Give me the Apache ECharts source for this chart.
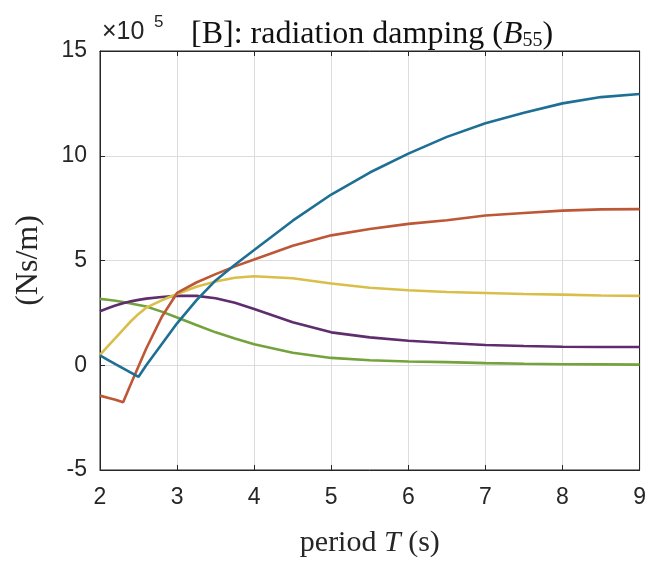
<!DOCTYPE html>
<html><head><meta charset="utf-8">
<script src="https://cdn.jsdelivr.net/npm/echarts/dist/echarts.min.js"></script>
<style>html,body{margin:0;padding:0;background:#fff;overflow:hidden}#c{width:649px;height:563px}</style>
</head><body><div id="c"></div>
<script>
// period T (s)
const periodT = [2, 2.1, 2.2, 2.3, 2.4, 2.5, 2.6, 2.8, 3, 3.25, 3.5, 3.75, 4, 4.5, 5, 5.5, 6, 6.5, 7, 7.5, 8, 8.5, 9];
// B55 values in units of 1e5 Ns/m
const seriesBlue   = [0.47, 0.26, 0.05, -0.15, -0.35, -0.55, 0.0, 1.0, 2.0, 3.1, 4.05, 4.8, 5.5, 6.9, 8.15, 9.2, 10.1, 10.9, 11.55, 12.05, 12.5, 12.8, 12.95];
const seriesOrange = [-1.45, -1.55, -1.65, -1.77, -0.9, -0.05, 0.8, 2.3, 3.45, 3.95, 4.35, 4.72, 5.05, 5.7, 6.2, 6.5, 6.75, 6.92, 7.15, 7.27, 7.38, 7.44, 7.45];
const seriesYellow = [0.49, 0.9, 1.3, 1.7, 2.1, 2.45, 2.75, 3.1, 3.4, 3.75, 4.0, 4.18, 4.25, 4.15, 3.9, 3.7, 3.58, 3.5, 3.45, 3.4, 3.37, 3.33, 3.31];
const seriesPurple = [2.58, 2.72, 2.85, 2.96, 3.05, 3.12, 3.18, 3.26, 3.31, 3.31, 3.2, 2.98, 2.68, 2.05, 1.57, 1.33, 1.17, 1.06, 0.97, 0.92, 0.88, 0.87, 0.87];
const seriesGreen  = [3.17, 3.13, 3.08, 3.02, 2.95, 2.88, 2.8, 2.56, 2.28, 1.92, 1.57, 1.28, 1.0, 0.6, 0.35, 0.24, 0.18, 0.15, 0.1, 0.07, 0.05, 0.04, 0.03];
const xTicks = [2, 3, 4, 5, 6, 7, 8, 9];
const yTicks = [-5, 0, 5, 10, 15];

const colors = ['#1d6f95', '#bd5736', '#d9bf4a', '#5f2c6e', '#74a23c'];
const allSeries = [seriesBlue, seriesOrange, seriesYellow, seriesPurple, seriesGreen];

const chart = echarts.init(document.getElementById('c'), null, {renderer: 'canvas'});
const sans = 'Liberation Sans, Arial, sans-serif';
const tickFont = {fontFamily: sans, fontSize: 23, color: '#262626'};
const serif = 'Liberation Serif, DejaVu Serif, serif';

chart.setOption({
  animation: false,
  backgroundColor: '#fff',
  title: [{
    left: 186, top: 12,
    text: '{n|[B]: radiation damping (}{i|B}{s|55}{n|)}',
    textStyle: {
      fontWeight: 'normal',
      rich: {
        n: {fontFamily: serif, fontSize: 32, fontWeight: 'normal', color: '#111', lineHeight: 34, verticalAlign: 'bottom'},
        i: {fontFamily: serif, fontSize: 32, fontStyle: 'italic', fontWeight: 'normal', color: '#111', lineHeight: 34, verticalAlign: 'bottom'},
        s: {fontFamily: serif, fontSize: 20, fontWeight: 'normal', color: '#111', lineHeight: 16, verticalAlign: 'bottom'}
      }
    }
  }],
  graphic: [
    {type: 'text', left: 102, top: 20, style: {text: '×10', fontSize: 25, fontFamily: sans, fill: '#262626'}},
    {type: 'text', left: 154, top: 14, style: {text: '5', fontSize: 17, fontFamily: sans, fill: '#262626'}}
  ],
  grid: {left: 100, right: 5, top: 51, bottom: 86, show: true, borderColor: '#262626', borderWidth: 1, backgroundColor: '#fff'},
  xAxis: [{
    type: 'value', min: 2, max: 9, interval: 1,
    name: '{a|period }{i|T}{a| (s)}', nameLocation: 'middle', nameGap: 58,
    nameTextStyle: {rich: {
      a: {fontFamily: serif, fontSize: 30, color: '#262626'},
      i: {fontFamily: serif, fontSize: 30, fontStyle: 'italic', color: '#262626'}
    }},
    axisLine: {show: true, onZero: false, lineStyle: {color: '#262626', width: 1}},
    axisTick: {show: true, inside: true, length: 5, lineStyle: {color: '#262626'}},
    axisLabel: Object.assign({margin: 16, formatter: v => xTicks.includes(v) ? String(v) : ''}, tickFont),
    splitLine: {show: true, lineStyle: {color: '#dcdcdc', width: 1}}
  }, {
    type: 'value', position: 'top', min: 2, max: 9, interval: 1,
    axisLine: {show: true, onZero: false, lineStyle: {color: '#262626', width: 1}},
    axisTick: {show: true, inside: true, length: 5, lineStyle: {color: '#262626'}},
    axisLabel: {show: false}, splitLine: {show: false}
  }],
  yAxis: [{
    type: 'value', min: -5, max: 15, interval: 5,
    name: '(Ns/m)', nameLocation: 'middle', nameGap: 55, nameRotate: 90,
    nameTextStyle: {fontFamily: serif, fontSize: 32, color: '#262626'},
    axisLine: {show: true, onZero: false, lineStyle: {color: '#262626', width: 1}},
    axisTick: {show: true, inside: true, length: 5, lineStyle: {color: '#262626'}},
    axisLabel: Object.assign({margin: 13, formatter: v => yTicks.includes(v) ? String(v) : ''}, tickFont),
    splitLine: {show: true, lineStyle: {color: '#dcdcdc', width: 1}}
  }, {
    type: 'value', position: 'right', min: -5, max: 15, interval: 5,
    axisLine: {show: true, onZero: false, lineStyle: {color: '#262626', width: 1}},
    axisTick: {show: true, inside: true, length: 5, lineStyle: {color: '#262626'}},
    axisLabel: {show: false}, splitLine: {show: false}
  }],
  series: allSeries.map((vals, k) => ({
    type: 'line',
    xAxisIndex: 0, yAxisIndex: 0,
    data: periodT.map((t, i) => [t, vals[i]]),
    showSymbol: false,
    smooth: false,
    lineStyle: {color: colors[k], width: 2.6},
    itemStyle: {color: colors[k]},
    z: 10 - k
  }))
});
</script>
</body></html>
